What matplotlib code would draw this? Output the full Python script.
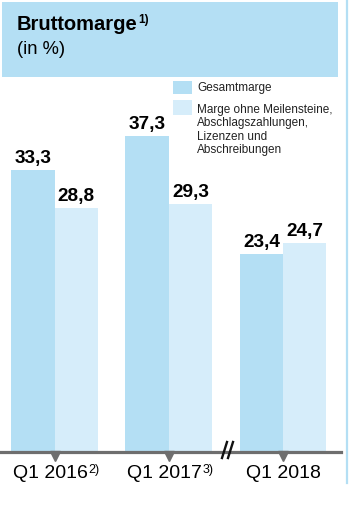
import matplotlib
matplotlib.use("Agg")
import matplotlib.pyplot as plt
from matplotlib.patches import Rectangle
from matplotlib.lines import Line2D
from matplotlib.transforms import Affine2D, ScaledTranslation, blended_transform_factory

plt.rcParams['font.family'] = ['Liberation Sans', 'DejaVu Sans']

# Data
periods = ["Q1 2016", "Q1 2017", "Q1 2018"]
period_notes = ["2)", "3)", ""]
gesamtmarge = [33.3, 37.3, 23.4]
marge_ohne = [28.8, 29.3, 24.7]
series_names = ["Gesamtmarge",
                "Marge ohne Meilensteine,\nAbschlagszahlungen,\nLizenzen und\nAbschreibungen"]

DARK = "#b4dff4"
LIGHT = "#d6edfa"
AXIS_GREY = "#6e6e6e"

W, H = 350, 516
fig = plt.figure(figsize=(W / 100, H / 100), dpi=100)
# pixel coordinates measured from the top-left corner
px = Affine2D().scale(1 / W, -1 / H).translate(0, 1) + fig.transFigure
renderer = fig.canvas.get_renderer()

# header panel
fig.patches.append(Rectangle((2, 2), 336, 75, transform=px, facecolor=DARK,
                             edgecolor="none", zorder=0))
t_title = fig.text(17, 30, "Bruttomarge", transform=px, fontsize=14.5,
                   fontweight="bold", va="baseline", ha="left")
tb = t_title.get_window_extent(renderer)
fig.text(tb.x1 + 0.5, 516 - 23, "1)", transform=None, fontsize=8.5,
         fontweight="bold", va="baseline", ha="left")
fig.text(17, 54, "(in %)", transform=px, fontsize=13.2, va="baseline", ha="left")

# thin divider on the right edge
fig.add_artist(Line2D([347, 347], [0, 483], transform=px, color=DARK, lw=1.6))

# chart area
ax = fig.add_axes([0, 64 / H, 341 / W, 381 / H])
ax.set_xlim(-0.477, 2.507)
ax.set_ylim(0, 45)
ax.axis("off")

xs = list(range(len(periods)))
bw = 0.38
xd = [x - bw / 2 for x in xs]
xl = [x + bw / 2 for x in xs]
ax.bar(xd, gesamtmarge, width=bw, color=DARK, linewidth=0, zorder=1)
ax.bar(xl, marge_ohne, width=bw, color=LIGHT, linewidth=0, zorder=1)

lift = ScaledTranslation(0, 7 / 100, fig.dpi_scale_trans)
for xpos, vals in ((xd, gesamtmarge), (xl, marge_ohne)):
    for x, v in zip(xpos, vals):
        ax.text(x, v, f"{v:.1f}".replace(".", ","), ha="center", va="baseline",
                fontsize=13.7, fontweight="bold", transform=ax.transData + lift)

# baseline axis with triangle ticks
ax.axhline(0, color=AXIS_GREY, lw=2.3, zorder=3, clip_on=False)
down = ScaledTranslation(0, -4 / 100, fig.dpi_scale_trans)
ax.plot(xs, [0] * len(xs), linestyle="none", marker="v", markersize=7.5,
        color=AXIS_GREY, transform=ax.transData + down, clip_on=False, zorder=3)

# category labels with footnote markers
trans_lbl = blended_transform_factory(ax.transData, ax.transAxes)
for x, lab, note in zip(xs, periods, period_notes):
    shift = -4.5 / 100 if note else 0
    tr = trans_lbl + ScaledTranslation(shift, -26 / 100, fig.dpi_scale_trans)
    t = ax.text(x, 0, lab, ha="center", va="baseline", fontsize=14,
                transform=tr, clip_on=False)
    if note:
        bb = t.get_window_extent(renderer)
        fig.text(bb.x1 + 0.5, 516 - 473, note, transform=None, fontsize=9,
                 ha="left", va="baseline")

# axis break marker
for x0 in (222, 228):
    fig.add_artist(Line2D([x0, x0 + 5], [458, 442], transform=px,
                          color="#111111", lw=1.7, zorder=5))

# legend
fig.patches.append(Rectangle((173, 81), 19, 13, transform=px, facecolor=DARK,
                             edgecolor="none"))
fig.patches.append(Rectangle((173, 100), 19, 15, transform=px, facecolor=LIGHT,
                             edgecolor="none"))
fig.text(197, 88, series_names[0], transform=px, fontsize=8.5, va="center",
         ha="left", color="#222222")
fig.text(197, 130, series_names[1], transform=px, fontsize=8.5, va="center",
         ha="left", linespacing=1.12, color="#222222")

fig.savefig("out.png", dpi=100)
